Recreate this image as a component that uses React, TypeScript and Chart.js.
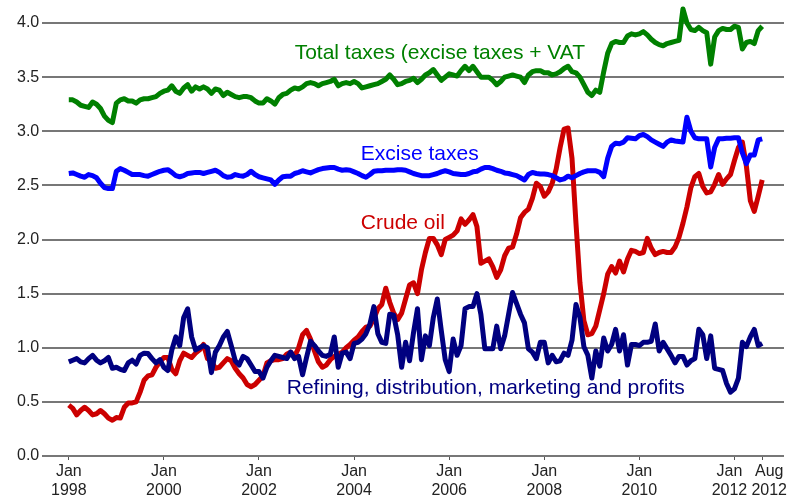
import React, { useEffect, useRef } from "react";
import { Chart, registerables } from "chart.js";

Chart.register(...registerables);

// Monthly values, Jan 1998 .. Aug 2012 (dollars per gallon)
const totalTaxes = [
  3.29, 3.29, 3.27, 3.24, 3.23, 3.22, 3.27, 3.25, 3.21, 3.14, 3.10, 3.08,
  3.26, 3.29, 3.30, 3.28, 3.28, 3.26, 3.29, 3.30, 3.30, 3.31, 3.32, 3.35,
  3.37, 3.38, 3.42, 3.37, 3.35, 3.40, 3.43, 3.37, 3.41, 3.39, 3.41, 3.39,
  3.35, 3.39, 3.38, 3.33, 3.36, 3.34, 3.32, 3.31, 3.32, 3.32, 3.31, 3.28,
  3.26, 3.26, 3.30, 3.28, 3.25, 3.31, 3.34, 3.35, 3.38, 3.40, 3.39, 3.41,
  3.44, 3.45, 3.44, 3.42, 3.44, 3.45, 3.46, 3.48, 3.42, 3.44, 3.45, 3.44,
  3.46, 3.44, 3.40, 3.41, 3.42, 3.43, 3.44, 3.46, 3.48, 3.52, 3.48, 3.43,
  3.44, 3.46, 3.47, 3.49, 3.45, 3.48, 3.52, 3.54, 3.57, 3.52, 3.47, 3.50,
  3.53, 3.52, 3.51, 3.56, 3.60, 3.56, 3.60, 3.55, 3.50, 3.50, 3.50, 3.47,
  3.43, 3.46, 3.50, 3.51, 3.52, 3.51, 3.50, 3.45, 3.52, 3.55, 3.56, 3.56,
  3.54, 3.54, 3.52, 3.53, 3.55, 3.58, 3.60, 3.55, 3.54, 3.50, 3.43, 3.36,
  3.33, 3.38, 3.36, 3.55, 3.72, 3.81, 3.83, 3.82, 3.82, 3.88, 3.90, 3.89,
  3.90, 3.92, 3.89, 3.85, 3.82, 3.80, 3.79, 3.81, 3.82, 3.83, 3.84, 4.13,
  4.00, 3.94, 3.93, 3.96, 3.93, 3.91, 3.62, 3.87, 3.93, 3.95, 3.94, 3.94,
  3.97, 3.96, 3.76, 3.82, 3.83, 3.81, 3.93, 3.97,
];

const exciseTaxes = [
  2.61, 2.615, 2.60, 2.585, 2.575, 2.60, 2.59, 2.57, 2.52, 2.48, 2.47, 2.47,
  2.63, 2.655, 2.64, 2.62, 2.60, 2.60, 2.60, 2.59, 2.585, 2.60, 2.615, 2.63,
  2.64, 2.645, 2.62, 2.59, 2.58, 2.59, 2.61, 2.615, 2.62, 2.62, 2.61, 2.62,
  2.63, 2.64, 2.62, 2.59, 2.575, 2.58, 2.60, 2.59, 2.585, 2.60, 2.63, 2.60,
  2.58, 2.57, 2.56, 2.55, 2.51, 2.55, 2.58, 2.585, 2.585, 2.61, 2.62, 2.635,
  2.625, 2.615, 2.63, 2.645, 2.655, 2.66, 2.665, 2.665, 2.65, 2.64, 2.645, 2.64,
  2.625, 2.61, 2.59, 2.575, 2.60, 2.63, 2.635, 2.635, 2.64, 2.64, 2.64, 2.645,
  2.645, 2.64, 2.625, 2.61, 2.60, 2.59, 2.59, 2.59, 2.60, 2.61, 2.625, 2.635,
  2.625, 2.61, 2.605, 2.60, 2.60, 2.61, 2.625, 2.63, 2.65, 2.665, 2.665, 2.655,
  2.64, 2.63, 2.615, 2.61, 2.60, 2.59, 2.57, 2.55, 2.60, 2.62, 2.61, 2.605,
  2.605, 2.60, 2.59, 2.57, 2.55, 2.56, 2.585, 2.57, 2.59, 2.61, 2.625, 2.635,
  2.635, 2.635, 2.62, 2.58, 2.75, 2.86, 2.89, 2.885, 2.90, 2.94, 2.935, 2.93,
  2.96, 2.97, 2.95, 2.92, 2.90, 2.88, 2.86, 2.90, 2.92, 2.91, 2.905, 2.90,
  3.13, 3.00, 2.94, 2.93, 2.93, 2.93, 2.67, 2.85, 2.93, 2.93, 2.935, 2.935,
  2.94, 2.94, 2.80, 2.70, 2.78, 2.78, 2.92, 2.93,
];

const crudeOil = [
  0.47, 0.44, 0.38, 0.42, 0.45, 0.42, 0.38, 0.39, 0.42, 0.39, 0.35, 0.33,
  0.355, 0.35, 0.45, 0.49, 0.49, 0.50, 0.59, 0.70, 0.74, 0.75, 0.82, 0.87,
  0.91, 0.91, 0.80, 0.76, 0.88, 0.95, 0.93, 0.91, 0.95, 0.98, 1.03, 0.90,
  0.88, 0.81, 0.82, 0.86, 0.90, 0.88, 0.81, 0.76, 0.72, 0.66, 0.64, 0.66,
  0.70, 0.74, 0.86, 0.88, 0.89, 0.89, 0.90, 0.94, 0.96, 0.92, 1.00, 1.12,
  1.16, 1.08, 0.97, 0.87, 0.82, 0.84, 0.89, 0.92, 0.94, 0.96, 1.00, 1.03,
  1.07, 1.10, 1.15, 1.19, 1.20, 1.27, 1.36, 1.40, 1.55, 1.42, 1.32, 1.26,
  1.32, 1.45, 1.58, 1.60, 1.50, 1.72, 1.88, 2.01, 2.01, 1.95, 1.86, 2.00,
  2.02, 2.04, 2.08, 2.19, 2.14, 2.18, 2.23, 2.12, 1.78, 1.80, 1.82, 1.75,
  1.65, 1.72, 1.85, 1.92, 1.93, 2.05, 2.20, 2.25, 2.28, 2.38, 2.52, 2.49,
  2.40, 2.44, 2.52, 2.65, 2.85, 3.02, 3.03, 2.75, 2.15, 1.60, 1.25, 1.12,
  1.13, 1.20, 1.35, 1.50, 1.68, 1.75, 1.69, 1.80, 1.70, 1.82, 1.90, 1.89,
  1.87, 1.88, 2.01, 1.92, 1.86, 1.88, 1.89, 1.88, 1.88, 1.93, 2.02, 2.15,
  2.30, 2.48, 2.58, 2.61, 2.49, 2.43, 2.44, 2.51, 2.60, 2.51, 2.56, 2.60,
  2.73, 2.85, 2.90, 2.68, 2.36, 2.26, 2.40, 2.55,
];

const refining = [
  0.87, 0.885, 0.90, 0.87, 0.86, 0.90, 0.93, 0.885, 0.86, 0.88, 0.91, 0.81,
  0.82, 0.80, 0.79, 0.86, 0.885, 0.85, 0.93, 0.95, 0.946, 0.90, 0.86, 0.89,
  0.82, 0.79, 0.98, 1.10, 1.02, 1.28, 1.36, 1.10, 0.98, 1.00, 1.02, 1.00,
  0.77, 0.96, 1.02, 1.10, 1.15, 1.02, 0.88, 0.84, 0.92, 0.90, 0.84, 0.78,
  0.78, 0.72, 0.82, 0.88, 0.93, 0.92, 0.91, 0.90, 0.96, 0.90, 0.92, 0.75,
  0.91, 1.06, 1.02, 0.97, 0.93, 0.92, 0.94, 1.10, 0.82, 0.95, 0.96, 0.90,
  1.04, 1.05, 1.08, 1.13, 1.22, 1.38, 1.13, 1.05, 1.04, 1.31, 1.30, 1.12,
  0.82, 1.05, 0.88, 1.14, 1.36, 0.89, 1.11, 1.02, 1.28, 1.45, 1.16, 0.89,
  0.78, 1.08, 0.93, 1.02, 1.36, 1.38, 1.38, 1.50, 1.31, 0.99, 0.99, 0.99,
  1.20, 0.99, 1.11, 1.31, 1.51, 1.41, 1.31, 1.23, 0.99, 0.96, 0.90, 1.05,
  1.05, 0.86, 0.93, 0.87, 0.88, 0.95, 0.93, 1.07, 1.40, 1.28, 1.01, 0.93,
  0.72, 0.97, 0.83, 1.09, 0.97, 1.03, 1.17, 0.97, 1.12, 0.84, 1.03, 1.03,
  1.02, 1.05, 1.05, 1.06, 1.22, 0.97, 1.05, 0.99, 0.93, 0.86, 0.92, 0.92,
  0.84, 0.88, 0.90, 1.17, 1.12, 0.90, 1.11, 0.81, 0.80, 0.79, 0.67, 0.59,
  0.62, 0.72, 1.05, 1.01, 1.10, 1.17, 1.02, 1.04,
];

// x-axis ticks: month index from Jan 1998
const tickMonths = [0, 24, 48, 72, 96, 120, 144, 168, 175];
const tickLabels = [
  ["Jan", "1998"],
  ["Jan", "2000"],
  ["Jan", "2002"],
  ["Jan", "2004"],
  ["Jan", "2006"],
  ["Jan", "2008"],
  ["Jan", "2010"],
  ["Jan", "2012"],
  ["Aug", "2012"],
];
// small horizontal nudges (px) so the two close 2012 labels do not collide
const tickLabelNudge = [0, 0, 0, 0, 0, 0, 0, -5, 7];

const seriesNames = [
  "Total taxes (excise taxes + VAT",
  "Excise taxes",
  "Crude oil",
  "Refining, distribution, marketing and profits",
];
const seriesColors = ["#008000", "#0000ff", "#cc0000", "#000080"];

// label anchors (month index, value) for the in-chart series labels
const labelMonths = [57.0, 73.7, 73.7, 55.0];
const labelValues = [3.72, 2.79, 2.15, 0.63];

const FONT = '"Liberation Sans", Arial, Helvetica, sans-serif';

const labelPlugin = {
  id: "seriesLabels",
  afterDatasetsDraw(chart: any) {
    const { ctx, scales } = chart;
    const xs = scales.x;
    const ys = scales.y;
    ctx.save();
    ctx.font = `21px ${FONT}`;
    ctx.textBaseline = "middle";
    ctx.textAlign = "left";
    seriesNames.forEach((name, i) => {
      ctx.fillStyle = seriesColors[i];
      ctx.fillText(name, xs.getPixelForValue(labelMonths[i]), ys.getPixelForValue(labelValues[i]));
    });
    // x tick labels (two lines each)
    ctx.font = `16px ${FONT}`;
    ctx.fillStyle = "#222";
    ctx.textAlign = "center";
    const base = chart.chartArea.bottom;
    tickMonths.forEach((m, i) => {
      const px = xs.getPixelForValue(m) + tickLabelNudge[i];
      ctx.fillText(tickLabels[i][0], px, base + 15.5);
      ctx.fillText(tickLabels[i][1], px, base + 34.5);
    });
    ctx.restore();
  },
};

export default function App() {
  const ref = useRef<HTMLCanvasElement | null>(null);

  useEffect(() => {
    if (!ref.current) return;
    const seriesData = [totalTaxes, exciseTaxes, crudeOil, refining];
    const drawOrder = [4, 2, 3, 1];
    const chart = new Chart(ref.current, {
      type: "line",
      data: {
        datasets: seriesData.map((arr, i) => ({
          label: seriesNames[i],
          data: arr.map((v, m) => ({ x: m, y: v })),
          borderColor: seriesColors[i],
          backgroundColor: seriesColors[i],
          borderWidth: 5,
          pointRadius: 0,
          tension: 0,
          fill: false,
          clip: false as any,
          borderJoinStyle: "round" as const,
          borderCapStyle: "butt" as const,
          order: drawOrder[i],
        })),
      },
      options: {
        animation: false,
        responsive: false,
        devicePixelRatio: 1,
        layout: { padding: { top: 23, right: 19, left: 14, bottom: 41 } },
        plugins: {
          legend: { display: false },
          tooltip: { enabled: false },
        },
        scales: {
          x: {
            type: "linear",
            min: -6.7,
            max: 180.5,
            afterBuildTicks: (scale: any) => {
              scale.ticks = tickMonths.map((v) => ({ value: v }));
            },
            ticks: { display: false },
            grid: {
              drawOnChartArea: false,
              drawTicks: true,
              tickLength: 4,
              color: "#555",
              lineWidth: 1,
            },
            border: { display: false },
          },
          y: {
            type: "linear",
            min: 0,
            max: 4,
            ticks: {
              stepSize: 0.5,
              padding: 3,
              color: "#222",
              font: { family: FONT, size: 16 },
              callback: (value: any) => Number(value).toFixed(1),
            },
            grid: {
              color: "#777",
              lineWidth: 2,
              drawTicks: false,
            },
            border: { display: false },
          },
        },
      },
      plugins: [labelPlugin],
    });
    return () => chart.destroy();
  }, []);

  return (
    <div style={{ position: "absolute", left: 0, top: 0, width: 803, height: 501, background: "#fff" }}>
      <canvas ref={ref} width={803} height={501} style={{ width: 803, height: 501, display: "block" }} />
    </div>
  );
}
